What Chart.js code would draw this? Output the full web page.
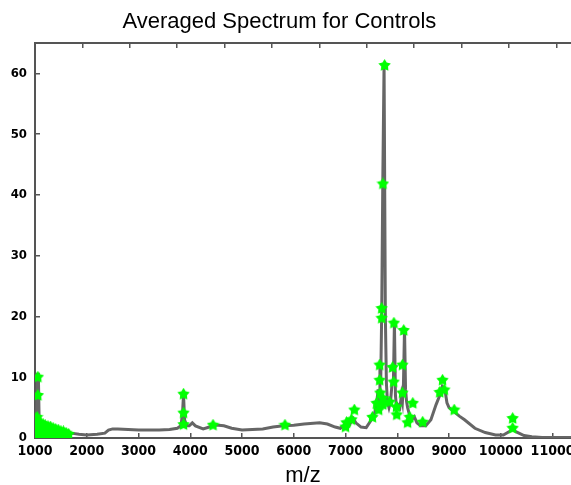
<!DOCTYPE html>
<html>
<head>
<meta charset="utf-8">
<script src="https://cdn.jsdelivr.net/npm/chart.js@4"></script>
<style>
  body { margin: 0; background: #fff; overflow: hidden; }
  canvas { display: block; }
</style>
</head>
<body>
<canvas id="chart" width="571" height="485"></canvas>
<script>
// averaged spectrum (m/z, intensity)
var specMz = [1000, 1030, 1050, 1065, 1080, 1100, 1150, 1250, 1400, 1550, 1700, 1850, 2000, 2200, 2350, 2420, 2500, 2600,
  2800, 3000, 3200, 3400, 3600, 3750, 3820, 3850, 3870, 3890, 3930, 3980, 4040, 4100, 4250, 4400, 4470, 4550, 4650,
  4800, 5000, 5200, 5400, 5600, 5800, 6000, 6200, 6500, 6650, 6800, 6900, 7000, 7050, 7150, 7200, 7300, 7400, 7500,
  7560, 7600, 7630, 7650, 7665, 7680, 7700, 7720, 7745, 7770, 7790, 7810, 7840, 7870, 7900,
  7925, 7945, 7965, 7985, 8010, 8050, 8080, 8100, 8120, 8140, 8160, 8180, 8200, 8230, 8280, 8330, 8380, 8450, 8550,
  8650, 8750, 8820, 8870, 8920, 8960, 9000, 9100, 9200, 9300, 9500, 9700, 9900, 10050, 10150, 10230, 10300, 10450,
  10600, 10800, 11000, 11400];
var specInt = [2.5, 3.5, 10.5, 10.5, 3, 2.8, 2.2, 1.8, 1.4, 1.1, 0.8, 0.6, 0.5, 0.6, 0.8, 1.3, 1.5, 1.5,
  1.4, 1.3, 1.3, 1.3, 1.4, 1.6, 2.0, 4, 7.2, 3, 2, 2, 2.5, 2, 1.5, 1.9, 2.1, 2.1, 2.0,
  1.6, 1.3, 1.4, 1.5, 1.8, 2.0, 2.1, 2.3, 2.5, 2.3, 1.8, 1.6, 2.3, 1.8, 3.2, 2.5, 1.8, 1.7, 3,
  4, 5.5, 8, 6, 12, 9, 21, 42, 61.5, 20, 9, 6, 5, 6, 9,
  9, 19, 7, 5, 5.5, 5, 7, 6, 9, 18, 8, 6, 5, 4, 3, 3.5, 2.5, 2, 2,
  3, 5.5, 7, 8.5, 8, 5.8, 5, 4.3, 3.6, 3, 1.6, 0.9, 0.5, 0.5, 1, 1.4, 1, 0.4,
  0.2, 0.1, 0.1, 0.1];

// detected peaks (green stars)
var peakMz = [1000, 1000, 1000, 1000, 1040, 1040, 1040, 1040, 1080, 1080, 1080, 1120, 1120, 1120, 1160, 1160, 1160,
  1200, 1200, 1200, 1250, 1250, 1250, 1300, 1300, 1300, 1350, 1350, 1350, 1400, 1400, 1450, 1450, 1500, 1500,
  1550, 1550, 1600, 1600, 1650, 1055, 1055,
  3870, 3870, 3870, 4440, 5830, 7000, 7020, 7115, 7170,
  7520, 7600, 7640, 7660, 7660, 7670, 7700, 7700, 7755, 7722, 7720, 7720,
  7850, 7910, 7935, 7930, 7985, 7990, 8100, 8100, 8125, 8200, 8240, 8300, 8490,
  8820, 8875, 8910, 9100, 10230, 10230];
var peakInt = [0.5, 1.5, 2.5, 3.2, 0.5, 1.5, 2.5, 3.4, 0.5, 1.5, 2.5, 0.5, 1.5, 2.4, 0.5, 1.4, 2.2,
  0.5, 1.3, 2.0, 0.5, 1.3, 1.9, 0.5, 1.2, 1.8, 0.5, 1.1, 1.6, 0.5, 1.4, 0.5, 1.3, 0.5, 1.1,
  0.5, 1.0, 0.5, 0.8, 0.6, 10, 7,
  7.2, 4.1, 2.2, 2.1, 2.1, 1.8, 2.5, 3, 4.6,
  3.4, 5.7, 4.6, 12, 9.5, 7.4, 21.3, 19.7, 61.3, 41.8, 6.5, 5.5,
  5.9, 11.6, 18.9, 9.2, 5.1, 3.8, 12, 7.4, 17.7, 2.5, 3.4, 5.7, 2.6,
  7.5, 9.5, 7.9, 4.6, 3.2, 1.6];

var xTickValues = [1000, 2000, 3000, 4000, 5000, 6000, 7000, 8000, 9000, 10000, 11000];
var yTickValues = [0, 10, 20, 30, 40, 50, 60];
var topTickValues = [0, 1, 2, 3, 4, 5, 6, 7, 8, 9, 10, 11];

function makeStar(size, color) {
  var c = document.createElement('canvas');
  c.width = size; c.height = size;
  var g = c.getContext('2d');
  var cx = size / 2, R = size / 2, r = R * 0.55;
  g.beginPath();
  for (var i = 0; i < 10; i++) {
    var a = -Math.PI / 2 + i * Math.PI / 5;
    var rr = i % 2 ? r : R;
    g.lineTo(cx + rr * Math.cos(a), cx + rr * Math.sin(a));
  }
  g.closePath();
  g.fillStyle = color;
  g.fill();
  return c;
}

function fixedTicks(values) {
  return function(scale) {
    scale.ticks = values.map(function(v) { return { value: v }; });
  };
}

var star = makeStar(13, '#00ff00');
var tickFamily = "'DejaVu Sans Condensed', 'DejaVu Sans', sans-serif";
var axisGrid = { drawOnChartArea: false, drawTicks: true, tickLength: -5, color: '#555', lineWidth: 1.5 };
var axisBorder = { display: true, color: '#555', width: 2 };

var ctx = document.getElementById('chart').getContext('2d');
var chart = new Chart(ctx, {
  data: {
    datasets: [{
      type: 'scatter',
      label: 'peaks',
      data: peakMz.map(function(m, i) { return { x: m, y: peakInt[i] }; }),
      pointStyle: star,
      pointRadius: 6,
      showLine: false,
      order: 0
    }, {
      type: 'line',
      label: 'spectrum',
      data: specMz.map(function(m, i) { return { x: m, y: specInt[i] }; }),
      borderColor: '#666666',
      borderWidth: 3,
      pointRadius: 0,
      tension: 0,
      fill: false,
      order: 1
    }]
  },
  options: {
    responsive: false,
    animation: false,
    layout: { padding: 0, autoPadding: false },
    plugins: {
      legend: { display: false },
      tooltip: { enabled: false },
      title: {
        display: true,
        text: 'Averaged Spectrum for Controls  ',
        color: '#000',
        font: { family: "'Liberation Sans', Arial, sans-serif", size: 22, weight: 'normal', lineHeight: 1.2 },
        padding: { top: 8.5, bottom: 8.1 }
      }
    },
    scales: {
      x: {
        type: 'linear',
        position: 'bottom',
        min: 1000,
        max: 11357,
        afterBuildTicks: fixedTicks(xTickValues),
        ticks: {
          autoSkip: false, maxRotation: 0, color: '#000', padding: 10,
          font: { family: tickFamily, weight: 'bold', size: 14 },
          callback: function(v) { return String(v); }
        },
        grid: axisGrid,
        border: axisBorder,
        title: {
          display: true, text: 'm/z', color: '#000',
          font: { family: "'Liberation Sans', Arial, sans-serif", size: 22, lineHeight: 0.8 },
          padding: 0
        },
        afterFit: function(s) { s.height = 47; s.paddingLeft = 0; s.paddingRight = 0; }
      },
      x2: {
        type: 'linear',
        position: 'top',
        min: 0,
        max: 11.31,
        afterBuildTicks: fixedTicks(topTickValues),
        ticks: { display: false },
        grid: axisGrid,
        border: axisBorder,
        afterFit: function(s) { s.height = 0; s.paddingLeft = 0; s.paddingRight = 0; }
      },
      y: {
        type: 'linear',
        position: 'left',
        min: 0,
        max: 65,
        afterBuildTicks: fixedTicks(yTickValues),
        ticks: {
          color: '#000', padding: 13,
          font: { family: tickFamily, weight: 'bold', size: 13 },
          callback: function(v) { return String(v); }
        },
        grid: axisGrid,
        border: axisBorder,
        afterFit: function(s) { s.width = 35; s.paddingTop = 0; s.paddingBottom = 0; }
      }
    }
  }
});
</script>
</body>
</html>
